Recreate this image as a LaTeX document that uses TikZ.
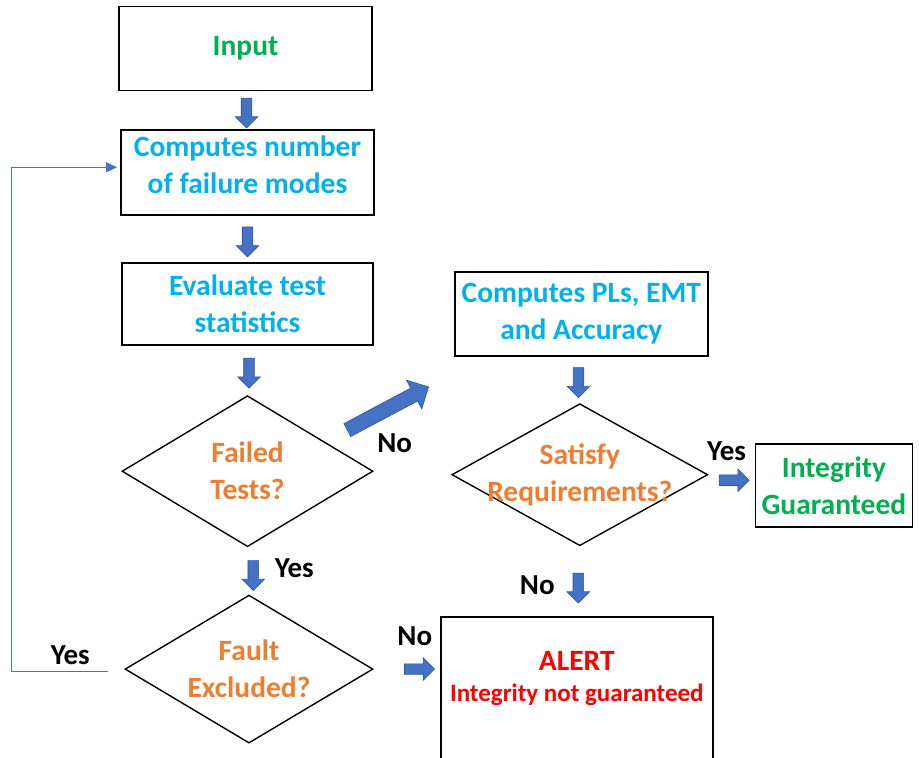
\documentclass[tikz,border=0pt]{standalone}
\usepackage{fontspec}
\setmainfont{Carlito}
\usetikzlibrary{shapes.geometric,shapes.arrows,arrows.meta,positioning,calc}

\definecolor{txtgreen}{HTML}{00B050}
\definecolor{txtcyan}{HTML}{00B0F0}
\definecolor{txtorange}{HTML}{ED7D31}
\definecolor{txtred}{HTML}{FF0000}
\definecolor{arrfill}{HTML}{4472C4}
\definecolor{arredge}{HTML}{2F528F}

\tikzset{
  procbox/.style={draw, line width=1.8pt, minimum width=253pt, minimum height=84pt, font=\fontsize{29.5}{37}\selectfont\bfseries, align=center, inner sep=2pt},
  decision/.style={draw, diamond, line width=1.4pt, inner sep=0pt},
  dtext/.style={font=\fontsize{29.5}{37}\selectfont\bfseries, text=txtorange, align=center},
  blockarrow/.style={single arrow, draw=arredge, fill=arrfill, line width=0.6pt, minimum height=30pt, minimum width=22pt, single arrow head extend=6pt, inner sep=5pt},
  bigarrow/.style={blockarrow, minimum height=92pt, minimum width=32pt, single arrow head extend=9pt, inner sep=7pt},
  answer/.style={font=\fontsize{29}{34}\selectfont\bfseries, inner sep=0pt},
  feedback/.style={draw=arrfill, line width=1pt, -{Triangle[length=11pt,width=10pt]}},
}

\begin{document}
\begin{tikzpicture}
  \useasboundingbox (0,0) rectangle (919pt,-758pt);
  \clip (0,0) rectangle (919pt,-758pt);

  % Main column
  \node[procbox, text=txtgreen] (input) at (245.5pt,-48.5pt) {Input};
  \node[procbox, text=txtcyan, below=38pt of input, xshift=2pt, minimum height=85pt, text depth=16pt] (modes) {Computes number\\of failure modes};
  \node[procbox, text=txtcyan, below=46pt of modes, minimum width=251pt, minimum height=82pt] (stats) {Evaluate test\\statistics};
  \node[decision, minimum width=251pt, minimum height=151pt, below=49pt of stats,
        label={[dtext]center:{Failed\\Tests?}}] (failed) {};
  \node[decision, minimum width=248pt, minimum height=148pt, below=47pt of failed, xshift=1.5pt,
        label={[dtext]center:{Fault\\Excluded?}}] (fault) {};

  % Right column
  \node[procbox, text=txtcyan, right=80pt of stats, yshift=-10pt] (pls) {Computes PLs, EMT\\and Accuracy};
  \node[decision, minimum width=256pt, minimum height=142pt, below=46pt of pls, xshift=-1.5pt,
        label={[dtext]center:{Satisfy\\Requirements?}}] (satisfy) {};
  \node[procbox, text=txtgreen, right=46pt of satisfy, yshift=-11pt, minimum width=157pt, minimum height=83pt] (guaranteed) {Integrity\\Guaranteed};
  \node[procbox, text=txtred, below=70pt of satisfy, xshift=-3pt, minimum width=272pt, inner ysep=34pt, text depth=100pt] (alert) {ALERT\\[-6pt]{\fontsize{25}{31}\selectfont Integrity not guaranteed}};

  % Block arrows
  \node[blockarrow, rotate=-90] (a1) at ($(input.south)!0.5!(modes.north)$) {};
  \node[blockarrow, rotate=-90] (a2) at ($(modes.south)!0.5!(stats.north)$) {};
  \node[blockarrow, rotate=-90] (a3) at ([xshift=1.5pt]$(stats.south)!0.5!(failed.north)$) {};
  \node[blockarrow, rotate=-90] (a4) at ([xshift=5pt,yshift=-2pt]$(failed.south)!0.5!(fault.north)$) {};
  \node[bigarrow, rotate=28] (a-no) at ([xshift=11pt,yshift=61pt]failed.east) {};
  \node[blockarrow, rotate=-90] (a5) at ([xshift=-2pt]$(pls.south)!0.5!(satisfy.north)$) {};
  \node[blockarrow] (a6) at ($(satisfy.east)!0.5!(guaranteed.west)$) {};
  \node[blockarrow, rotate=-90] (a7) at ([yshift=-4pt]$(satisfy.south)!0.5!(alert.north)$) {};
  \node[blockarrow] (a8) at ([xshift=10pt]$(fault.east)!0.5!(fault.east -| alert.west)$) {};

  % Answers
  \node[answer] (l-no1) at ([xshift=21pt,yshift=28pt]failed.east) {No};
  \node[answer] (l-yes1) at ([xshift=41pt,yshift=5pt]a4.center) {Yes};
  \node[answer] (l-yes2) at ([xshift=-5pt,yshift=29pt]a6.center) {Yes};
  \node[answer] (l-no2) at ([xshift=-41pt]a7.center) {No};
  \node[answer] (l-no3) at ([xshift=-2pt,yshift=33pt]a8.center) {No};
  \node[answer] (l-yes3) at ([xshift=-54pt,yshift=14pt]fault.west) {Yes};

  % Loop back
  \draw[feedback] ([xshift=-16pt,yshift=-2pt]fault.west) -| ([xshift=-109pt,yshift=5.5pt]modes.west) -- ([xshift=-3pt,yshift=5.5pt]modes.west);
\end{tikzpicture}
\end{document}
